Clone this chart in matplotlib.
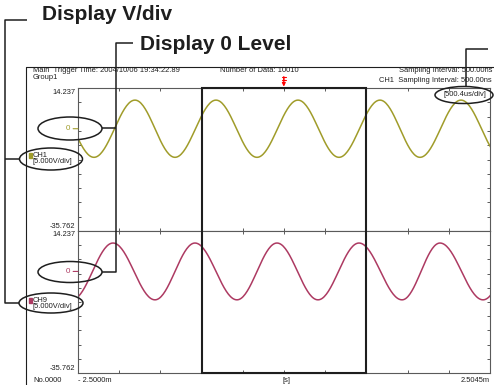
import numpy as np
import matplotlib
matplotlib.use('Agg')
import matplotlib.pyplot as plt
from matplotlib.patches import Ellipse, Rectangle

# time base [ms] and vertical scale [V]
timeStart: float = -2.5000
timeEnd: float = 2.5045
timeDivs: int = 10
levelTop: float = 14.237
levelBottom: float = -35.762
voltDivs: int = 10
zoomDivs: list[int] = [3, 7]
triggerTime: float = 0.0

# extrema [ms], [V]
ch1Times: list[float] = [-2.804, -2.306, -1.808, -1.322, -0.824, -0.326, 0.172, 0.670, 1.168, 1.654, 2.152, 2.650]
ch1Values: list[float] = [10.0, -10.0, 10.0, -10.0, 10.0, -10.0, 10.0, -10.0, 10.0, -10.0, 10.0, -10.0]
ch9Times: list[float] = [-2.573, -2.075, -1.565, -1.079, -0.569, -0.083, 0.415, 0.913, 1.436, 1.897, 2.420, 2.918]
ch9Values: list[float] = [-10.0, 10.0, -10.0, 10.0, -10.0, 10.0, -10.0, 10.0, -10.0, 10.0, -10.0, 10.0]

channelNames: list[str] = ['CH1', 'CH9']
channelScales: list[str] = ['[5.000V/div]', '[5.000V/div]']
channelColors: list[str] = ['#a09c2a', '#ad3a62']

headerLeft: list[str] = ['Main  Trigger Time: 2004/10/06 19:34:22.89', 'Group1']
headerMid: str = 'Number of Data: 10010'
headerRight: list[str] = ['Sampling Interval: 500.00ns', 'CH1  Sampling Interval: 500.00ns']
timeLabels: list[str] = ['- 2.5000m', '[s]', '2.5045m']
recordLabel: str = 'No.0000'
zoomLabel: str = '[500.4us/div]'
calloutTitles: list[str] = ['Display V/div', 'Display 0 Level']

W, H = 494, 385
GRAY = '#5a5a5a'
INK = '#1e1e1e'
SMALL = ['Liberation Sans Narrow', 'Liberation Sans', 'DejaVu Sans']
BOLD = ['Liberation Sans', 'DejaVu Sans']
FS = 5.4


def traceBetweenExtrema(times: list[float], values: list[float], steps: int = 40):
    xs, ys = [], []
    for i in range(len(times) - 1):
        s = np.linspace(0.0, 1.0, steps)
        v0, v1 = values[i], values[i + 1]
        xs.append(times[i] + (times[i + 1] - times[i]) * s)
        ys.append((v0 + v1) / 2 + (v0 - v1) / 2 * np.cos(np.pi * s))
    return np.concatenate(xs), np.concatenate(ys)


def setupPanel(ax: any, color: str, times: list[float], values: list[float], isTop: bool) -> None:
    ax.set_xlim(timeStart, timeEnd)
    ax.set_ylim(levelBottom, levelTop)
    ax.set_xticks(np.linspace(timeStart, timeEnd, timeDivs + 1))
    ax.set_yticks(np.linspace(levelBottom, levelTop, voltDivs + 1))
    ax.tick_params(direction='in', length=2.5, width=0.7, color=GRAY,
                   top=True, right=True, labelleft=False, labelbottom=False)
    for spine in ax.spines.values():
        spine.set_color(GRAY)
        spine.set_linewidth(0.8)

    x, y = traceBetweenExtrema(times, values)
    ax.plot(x, y, color=color, lw=1.1)

    # zoom box edges
    zoomTimes = [timeStart + d * (timeEnd - timeStart) / timeDivs for d in zoomDivs]
    for t in zoomTimes:
        ax.axvline(t, color=INK, lw=1.5, zorder=4)
    edge = levelTop if isTop else levelBottom
    ax.plot(zoomTimes, [edge, edge], color=INK, lw=1.5, clip_on=False, zorder=4)

    # scale labels
    ax.annotate(f'{levelTop:.3f}', xy=(0, levelTop), xycoords=('axes fraction', 'data'),
                xytext=(-2, -0.5 if isTop else -0.3), textcoords='offset points',
                ha='right', va='top', fontsize=FS, family=SMALL, color=INK)
    ax.annotate(f'{levelBottom:.3f}', xy=(0, levelBottom), xycoords=('axes fraction', 'data'),
                xytext=(-2, 0.5), textcoords='offset points',
                ha='right', va='bottom', fontsize=FS, family=SMALL, color=INK)
    ax.annotate('0', xy=(0, 0), xycoords=('axes fraction', 'data'),
                xytext=(-6, 0), textcoords='offset points', ha='right', va='center',
                fontsize=FS + 0.4, family=SMALL, color=color, annotation_clip=False,
                arrowprops=dict(arrowstyle='-', color=color, lw=0.8, shrinkA=0.5, shrinkB=0))


def drawOverlay(ax: any) -> None:
    line = dict(color=INK, lw=1.1, solid_capstyle='butt')
    # frame of the screen
    ax.plot([26, 26, W], [H, 67, 67], color=INK, lw=0.8)
    # callout brackets
    ax.plot([27, 5, 5, 19], [20, 20, 303, 303], **line)
    ax.plot([5, 20], [159, 159], **line)
    ax.plot([133, 116, 116, 102], [43, 43, 272, 272], **line)
    ax.plot([116, 102], [128, 128], **line)
    ax.plot([488, 466, 466], [49, 49, 87], **line)

    for cx, cy, w, h in [(51, 159, 63, 22), (51, 303, 64, 20), (70, 128.5, 64, 23),
                         (70, 272, 64, 21), (464, 95, 58, 17)]:
        ax.add_patch(Ellipse((cx, cy), w, h, fill=False, ec=INK, lw=1.1))

    ax.text(42, 15, calloutTitles[0], fontsize=15, weight='bold', family=BOLD,
            color=INK, ha='left', va='center')
    ax.text(140, 45, calloutTitles[1], fontsize=15, weight='bold', family=BOLD,
            color=INK, ha='left', va='center')

    small = dict(fontsize=FS, family=SMALL, color=INK)
    ax.text(33, 71, headerLeft[0], ha='left', va='center', **small)
    ax.text(33, 77.5, headerLeft[1], ha='left', va='center', **small)
    ax.text(220, 71, headerMid, ha='left', va='center', **small)
    ax.text(492, 71, headerRight[0], ha='right', va='center', **small)
    ax.text(492, 80, headerRight[1], ha='right', va='center', **small)
    ax.text(465, 95, zoomLabel, ha='center', va='center', **small)
    ax.text(33, 380, recordLabel, ha='left', va='center', **small)

    for i, cy in enumerate([155.5, 300]):
        ax.add_patch(Rectangle((29, cy - 2.5), 3, 5, color=channelColors[i]))
        ax.text(33, cy, channelNames[i], ha='left', va='center', **small)
        ax.text(32, cy + 6, channelScales[i], ha='left', va='center', **small)


def main() -> None:
    fig = plt.figure(figsize=(W / 100, H / 100), dpi=100)
    axTop = fig.add_axes([78 / W, (H - 231) / H, 412 / W, 143 / H])
    axBot = fig.add_axes([78 / W, (H - 373) / H, 412 / W, 142 / H])
    setupPanel(axTop, channelColors[0], ch1Times, ch1Values, True)
    setupPanel(axBot, channelColors[1], ch9Times, ch9Values, False)

    # trigger mark
    axTop.annotate('', xy=(triggerTime, 1.0), xycoords=('data', 'axes fraction'),
                   xytext=(0, 8), textcoords='offset points', annotation_clip=False,
                   arrowprops=dict(arrowstyle='-|>', color='red', lw=0.9,
                                   mutation_scale=5, shrinkA=0, shrinkB=1))
    axTop.annotate('', xy=(triggerTime, 1.0), xycoords=('data', 'axes fraction'),
                   xytext=(0, 8), textcoords='offset points', annotation_clip=False,
                   arrowprops=dict(arrowstyle='|-|', color='red', lw=0.8,
                                   mutation_scale=1.5, shrinkA=0, shrinkB=6))

    # time axis labels
    small = dict(fontsize=FS, family=SMALL, color=INK, va='center')
    axBot.annotate(timeLabels[0], xy=(0, 0), xycoords='axes fraction', xytext=(0, -5.2),
                   textcoords='offset points', ha='left', **small)
    axBot.annotate(timeLabels[1], xy=(0.5, 0), xycoords='axes fraction', xytext=(2, -5.2),
                   textcoords='offset points', ha='center', **small)
    axBot.annotate(timeLabels[2], xy=(1, 0), xycoords='axes fraction', xytext=(0, -5.2),
                   textcoords='offset points', ha='right', **small)

    overlay = fig.add_axes([0, 0, 1, 1])
    overlay.set_xlim(0, W)
    overlay.set_ylim(H, 0)
    overlay.axis('off')
    overlay.set_zorder(5)
    overlay.patch.set_visible(False)
    drawOverlay(overlay)

    fig.savefig('out.png', dpi=100)


if __name__ == '__main__':
    main()
